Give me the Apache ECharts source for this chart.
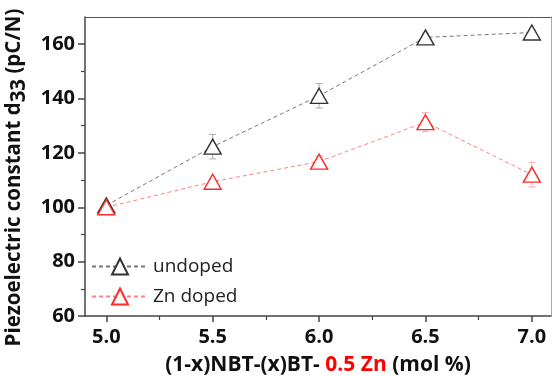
<!DOCTYPE html>
<html>
<head>
<meta charset="utf-8">
<script src="https://cdn.jsdelivr.net/npm/echarts@6/dist/echarts.min.js"></script>
<style>
  html, body { margin: 0; padding: 0; background: #fff; }
  #chart { width: 552px; height: 376px; }
</style>
</head>
<body>
<div id="chart"></div>
<script>
// values
const xValues = [5.0, 5.5, 6.0, 6.5, 7.0]
const undoped = [100.7, 122.3, 141.0, 162.5, 164.3]
const undopedErr = [1, 4.5, 4.5, 1.5, 1]
const znDoped = [100.0, 109.4, 116.8, 131.3, 112.0]
const znDopedErr = [1, 1, 2, 3.5, 4.5]

const xMajorTicks = [5.0, 5.5, 6.0, 6.5, 7.0]
const xMinorTicks = [5.25, 5.75, 6.25, 6.75]
const yMajorTicks = [60, 80, 100, 120, 140, 160]
const yMinorTicks = [70, 90, 110, 130, 150]

const font = 'Open Sans'
const axisColor = '#444'

const chart = echarts.init(document.getElementById('chart'))

function errorSeries(values, errs, color) {
  return {
    type: 'custom',
    silent: true,
    z: 1,
    encode: { x: 0, y: [1, 2] },
    data: xValues.map((x, i) => [x, values[i] - errs[i], values[i] + errs[i]]),
    renderItem(params, api) {
      const lo = api.coord([api.value(0), api.value(1)])
      const hi = api.coord([api.value(0), api.value(2)])
      const w = 3.5
      const style = { stroke: color, lineWidth: 1 }
      return {
        type: 'group',
        children: [
          { type: 'line', shape: { x1: lo[0], y1: lo[1], x2: hi[0], y2: hi[1] }, style },
          { type: 'line', shape: { x1: lo[0] - w, y1: lo[1], x2: lo[0] + w, y2: lo[1] }, style },
          { type: 'line', shape: { x1: hi[0] - w, y1: hi[1], x2: hi[0] + w, y2: hi[1] }, style }
        ]
      }
    }
  }
}

function lineSeries(name, values, lineColor, symbolColor) {
  return {
    name: name,
    type: 'line',
    z: 3,
    data: xValues.map((x, i) => [x, values[i]]),
    symbol: 'triangle',
    symbolSize: [17, 15],
    showAllSymbol: true,
    lineStyle: { color: lineColor, width: 1, type: [4, 3] },
    itemStyle: { color: '#fff', borderColor: symbolColor, borderWidth: 1.4 },
    emphasis: { disabled: true }
  }
}

const xBase = { type: 'value', min: 4.9, max: 7.09, splitLine: { show: false } }
const yBase = { type: 'value', min: 60, max: 170, splitLine: { show: false } }

chart.setOption({
  animation: false,
  backgroundColor: '#fff',
  grid: { left: 85, right: 1, top: 17, bottom: 60, outerBoundsMode: 'none', containLabel: false },
  legend: {
    data: ['undoped', 'Zn doped'],
    orient: 'vertical',
    left: 86,
    top: 252,
    itemWidth: 56,
    itemHeight: 20,
    itemGap: 11,
    textStyle: { fontFamily: font, fontSize: 19, color: '#222' }
  },
  xAxis: [
    Object.assign({}, xBase, {
      position: 'bottom',
      axisLine: { show: true, onZero: false, lineStyle: { color: axisColor, width: 1.5 } },
      axisTick: { show: true, length: 6, customValues: xMajorTicks, lineStyle: { color: axisColor, width: 1.5 } },
      axisLabel: {
        customValues: xMajorTicks,
        formatter: v => v.toFixed(1),
        margin: 11,
        fontFamily: font, fontSize: 20, fontWeight: 'bold', color: '#111'
      },
      name: '{a|(1-x)NBT-(x)BT- }{r|0.5 Zn}{a| (mol %)}',
      nameLocation: 'middle',
      nameGap: 39,
      nameTextStyle: {
        rich: {
          a: { fontFamily: font, fontSize: 21, fontWeight: 'bold', color: '#111' },
          r: { fontFamily: font, fontSize: 21, fontWeight: 'bold', color: '#ff0000' }
        }
      }
    }),
    Object.assign({}, xBase, {
      position: 'bottom',
      axisLine: { show: false, onZero: false },
      axisTick: { show: true, length: 4, customValues: xMinorTicks, lineStyle: { color: axisColor, width: 1.2 } },
      axisLabel: { show: false }
    }),
    Object.assign({}, xBase, {
      position: 'top',
      axisLine: { show: true, onZero: false, lineStyle: { color: '#555', width: 1.2 } },
      axisTick: { show: false },
      axisLabel: { show: false }
    })
  ],
  yAxis: [
    Object.assign({}, yBase, {
      position: 'left',
      axisLine: { show: true, onZero: false, lineStyle: { color: axisColor, width: 1.5 } },
      axisTick: { show: true, length: 7, customValues: yMajorTicks, lineStyle: { color: axisColor, width: 1.5 } },
      axisLabel: {
        customValues: yMajorTicks,
        margin: 10,
        fontFamily: font, fontSize: 20, fontWeight: 'bold', color: '#111'
      },
      name: '{a|Piezoelectric constant d}{s|33}{a| (pC/N)}',
      nameLocation: 'middle',
      nameGap: 51,
      nameTextStyle: {
        padding: [0, 22, 0, 0],
        rich: {
          a: { fontFamily: font, fontSize: 20.5, fontWeight: 'bold', color: '#111', verticalAlign: 'top', lineHeight: 24 },
          s: { fontFamily: font, fontSize: 20.5, fontWeight: 'bold', color: '#111', verticalAlign: 'top', lineHeight: 24, padding: [5, 0, 0, 0] }
        }
      }
    }),
    Object.assign({}, yBase, {
      position: 'left',
      axisLine: { show: false, onZero: false },
      axisTick: { show: true, length: 4, customValues: yMinorTicks, lineStyle: { color: axisColor, width: 1.2 } },
      axisLabel: { show: false }
    }),
    Object.assign({}, yBase, {
      position: 'right',
      axisLine: { show: true, onZero: false, lineStyle: { color: '#aaa', width: 1 } },
      axisTick: { show: false },
      axisLabel: { show: false }
    })
  ],
  series: [
    errorSeries(undoped, undopedErr, '#aaaaaa'),
    errorSeries(znDoped, znDopedErr, '#ffaaaa'),
    lineSeries('undoped', undoped, '#777777', '#333333'),
    lineSeries('Zn doped', znDoped, '#ff8080', '#ff2a2a')
  ]
})
</script>
</body>
</html>
